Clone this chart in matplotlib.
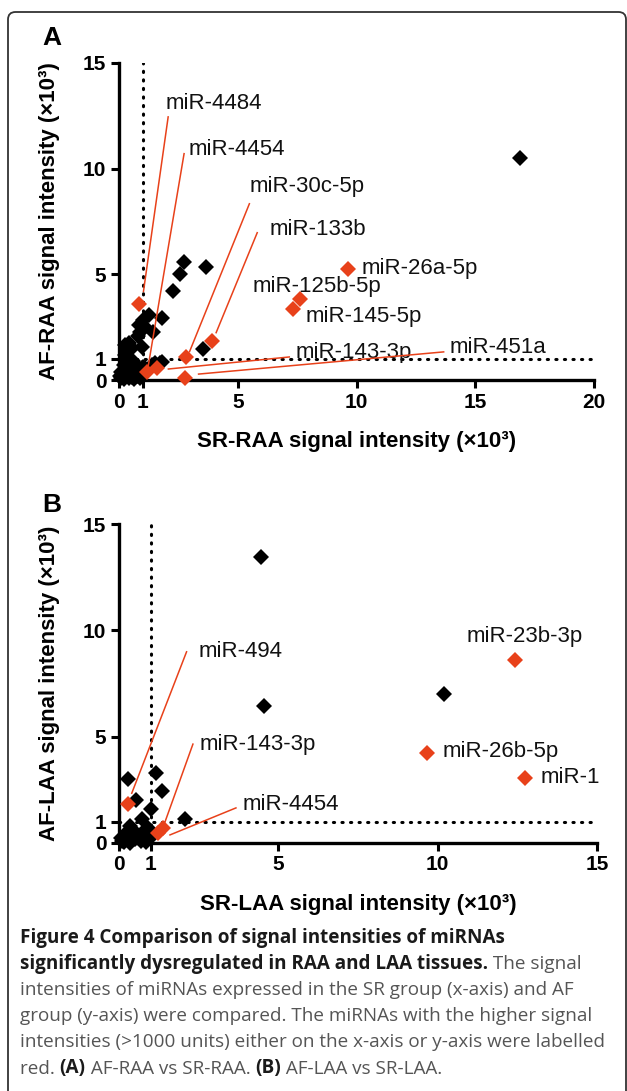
import matplotlib
matplotlib.use("Agg")
import matplotlib.pyplot as plt
from matplotlib.patches import FancyBboxPatch

# ---- data (x10^3 units) ----
# panel A: AF-RAA vs SR-RAA
a_black_x = [16.9, 2.74, 3.66, 2.57, 2.26, 1.80, 1.28, 1.03, 0.86, 1.45, 0.89, 1.10,
             0.44, 0.35, 0.30, 3.53, 1.80, 1.38, 1.03, 0.80, 0.96, 0.54, 0.25, 1.52, 1.73,
             0.10, 0.15, 0.20, 0.25, 0.30, 0.35, 0.40, 0.45, 0.50, 0.55, 0.60, 0.65, 0.70,
             0.75, 0.80, 0.85, 0.90, 0.95, 0.20, 0.10, 0.30, 0.50, 1.00, 1.10, 0.05, 0.60,
             0.40, 0.25]
a_black_y = [10.5, 5.56, 5.37, 5.02, 4.23, 2.92, 3.08, 2.84, 2.60, 2.29, 2.29, 2.50,
             1.74, 1.42, 1.10, 1.47, 0.87, 0.71, 0.63, 2.10, 1.58, 1.50, 1.66, 0.80, 0.80,
             0.10, 0.30, 0.05, 0.50, 0.20, 0.40, 0.10, 0.60, 0.30, 0.15, 0.45, 0.05, 0.30,
             0.60, 0.20, 0.40, 0.10, 0.55, 0.70, 0.40, 0.85, 0.75, 0.30, 0.55, 0.20, 0.90,
             1.00, 1.20]
a_red_names = ["miR-4484", "miR-4454", "miR-30c-5p", "miR-133b", "miR-26a-5p",
               "miR-125b-5p", "miR-145-5p", "miR-143-3p", "miR-451a"]
a_red_x = [0.84, 1.17, 2.81, 3.92, 9.65, 7.64, 7.31, 1.62, 2.78]
a_red_y = [3.60, 0.39, 1.10, 1.86, 5.25, 3.82, 3.35, 0.55, 0.08]

# panel B: AF-LAA vs SR-LAA
b_black_x = [4.45, 4.55, 10.2, 0.27, 1.16, 1.34, 0.53, 1.00, 0.71, 0.35, 2.07, 0.75, 0.92,
             0.10, 0.20, 0.30, 0.40, 0.15, 0.50, 0.60, 0.70, 0.80, 0.90, 0.25, 0.45, 1.00,
             0.05, 0.35, 0.85]
b_black_y = [13.45, 6.45, 6.99, 3.00, 3.30, 2.44, 2.02, 1.58, 1.11, 0.80, 1.11, 0.53, 0.69,
             0.10, 0.30, 0.15, 0.40, 0.05, 0.20, 0.35, 0.10, 0.25, 0.45, 0.50, 0.60, 0.30,
             0.25, 0.02, 0.05]
b_red_names = ["miR-23b-3p", "miR-26b-5p", "miR-1", "miR-494", "miR-143-3p", "miR-4454"]
b_red_x = [12.43, 9.68, 12.74, 0.27, 1.37, 1.23]
b_red_y = [8.60, 4.25, 3.07, 1.82, 0.69, 0.46]

# ---- layout: label text position, and leader line (start, end) or None ----
a_layout = {
    "miR-4484": ((1.98, 13.08), ((2.07, 12.45), (1.03, 4.19))),
    "miR-4454": ((2.95, 10.90), ((2.74, 10.71), (1.19, 0.39))),
    "miR-30c-5p": ((5.49, 9.15), ((5.49, 8.34), (2.97, 1.34))),
    "miR-133b": ((6.33, 7.11), ((5.82, 6.97), (4.09, 2.24))),
    "miR-26a-5p": ((10.21, 5.26), None),
    "miR-125b-5p": ((5.61, 4.41), None),
    "miR-145-5p": ((7.85, 2.99), None),
    "miR-143-3p": ((7.43, 1.28), ((7.17, 1.09), (2.08, 0.52))),
    "miR-451a": ((13.92, 1.56), ((13.67, 1.33), (3.35, 0.28))),
}
b_layout = {
    "miR-23b-3p": ((10.92, 9.73), None),
    "miR-26b-5p": ((10.14, 4.29), None),
    "miR-1": ((13.24, 3.06), None),
    "miR-494": ((2.49, 8.99), ((2.12, 8.99), (0.40, 2.34))),
    "miR-143-3p": ((2.54, 4.65), ((2.32, 4.65), (1.41, 0.85))),
    "miR-4454": ((3.89, 1.79), ((3.67, 1.65), (1.60, 0.38))),
}

RED = "#e8411a"
W, H = 627, 1091
fig = plt.figure(figsize=(W / 100, H / 100), dpi=100)
plt.rcParams['font.family'] = ['Liberation Sans', 'DejaVu Sans']


def px_axes(l, t, r, b):
    return fig.add_axes([l / W, 1 - b / H, (r - l) / W, (b - t) / H])


def panel(ax, bx, by, rx, ry, names, layout, xmax, xticks, xlabel, ylabel):
    ax.set_xlim(0, xmax)
    ax.set_ylim(0, 15)
    for s in ["top", "right"]:
        ax.spines[s].set_visible(False)
    for s in ["left", "bottom"]:
        ax.spines[s].set_linewidth(2.4)
    ax.set_xticks(xticks)
    ax.set_yticks([0, 1, 5, 10, 15])
    ax.tick_params(direction="out", length=6, width=2.2, labelsize=15, pad=3)
    for lb in ax.get_xticklabels() + ax.get_yticklabels():
        lb.set_fontweight("bold")
    ax.plot([1, 1], [0, 15], color="black", lw=2.2, ls=(0, (0.4, 2.4)),
            dash_capstyle="round", zorder=1)
    ax.plot([0, xmax], [1, 1], color="black", lw=2.2, ls=(0, (0.4, 2.4)),
            dash_capstyle="round", zorder=1)
    ax.plot(bx, by, ls="none", marker="D", ms=8, color="black", mew=0,
            clip_on=False, zorder=3)
    ax.plot(rx, ry, ls="none", marker="D", ms=8, color=RED, mew=0,
            clip_on=False, zorder=4)
    for n in names:
        (tx, ty), line = layout[n]
        ax.text(tx, ty, n, fontsize=16, va="center", ha="left", color="#111111")
        if line is not None:
            (x0, y0), (x1, y1) = line
            ax.plot([x0, x1], [y0, y1], color=RED, lw=1.1, zorder=5, clip_on=False)
    ax.set_xlabel(xlabel, fontsize=16, fontweight="bold", labelpad=14)
    ax.set_ylabel(ylabel, fontsize=16, fontweight="bold", labelpad=17)
    ax.patch.set_alpha(0)


axA = px_axes(119, 63, 594, 380)
panel(axA, a_black_x, a_black_y, a_red_x, a_red_y, a_red_names, a_layout, 20,
      [0, 1, 5, 10, 15, 20], "SR-RAA signal intensity (×10³)", "AF-RAA signal intensity (×10³)")
axB = px_axes(119, 524, 597, 843)
panel(axB, b_black_x, b_black_y, b_red_x, b_red_y, b_red_names, b_layout, 15,
      [0, 1, 5, 10, 15], "SR-LAA signal intensity (×10³)", "AF-LAA signal intensity (×10³)")

fig.text(52 / W, 1 - 38 / H, "A", fontsize=19, fontweight="bold", ha="center", va="center")
fig.text(52 / W, 1 - 505 / H, "B", fontsize=19, fontweight="bold", ha="center", va="center")

# frame
frame = FancyBboxPatch((8 / W, -0.05), (626 - 8) / W, 1 - 12 / H + 0.05,
                       boxstyle="round,pad=0,rounding_size=0.012", transform=fig.transFigure,
                       fill=False, edgecolor="#333333", lw=1.3, mutation_aspect=W / H)
fig.patches.append(frame)

# caption
cap = [
    [("Figure 4 Comparison of signal intensities of miRNAs", True)],
    [("significantly dysregulated in RAA and LAA tissues.", True), (" The signal", False)],
    [("intensities of miRNAs expressed in the SR group (x-axis) and AF", False)],
    [("group (y-axis) were compared. The miRNAs with the higher signal", False)],
    [("intensities (>1000 units) either on the x-axis or y-axis were labelled", False)],
    [("red. ", False), ("(A)", True), (" AF-RAA vs SR-RAA. ", False), ("(B)", True),
     (" AF-LAA vs SR-LAA.", False)],
]
renderer = fig.canvas.get_renderer()
for i, parts in enumerate(cap):
    x = 20
    y = 938 + 26.1 * i
    for s, bold in parts:
        t = fig.text(x / W, 1 - y / H, s, fontsize=13.6, family=["Open Sans", "DejaVu Sans"],
                     fontweight="bold" if bold else "normal",
                     color="#1a1a1a" if bold else "#555555", va="center", ha="left")
        x += t.get_window_extent(renderer).width

fig.savefig("out.png", dpi=100)
